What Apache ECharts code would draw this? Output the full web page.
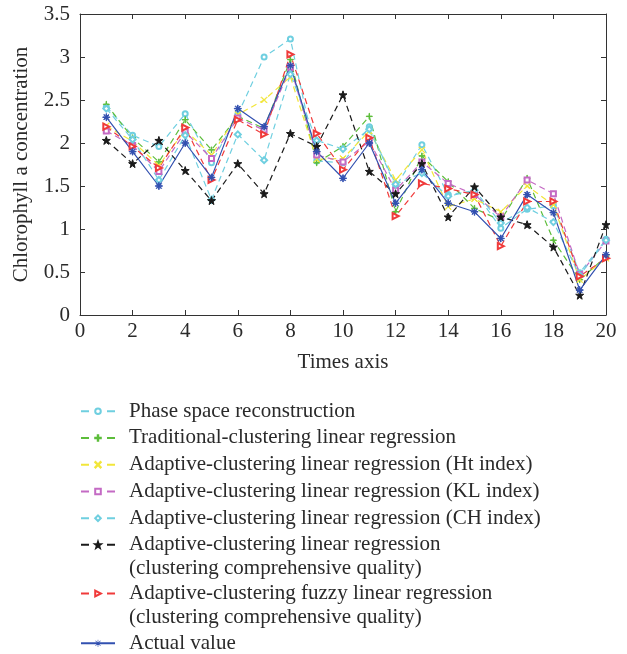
<!DOCTYPE html>
<html>
<head>
<meta charset="utf-8">
<script src="https://cdn.jsdelivr.net/npm/echarts@6/dist/echarts.min.js"></script>
<style>
html,body{margin:0;padding:0;background:#fff;}
#chart{width:627px;height:654px;}
</style>
</head>
<body>
<div id="chart"></div>
<script>
// ---- data ----
var xValues = [1,2,3,4,5,6,7,8,9,10,11,12,13,14,15,16,17,18,19,20];
var xTicks = [0,2,4,6,8,10,12,14,16,18,20];
var yTicks = [0,0.5,1,1.5,2,2.5,3,3.5];

var seriesNames = [
  'Phase space reconstruction',
  'Traditional-clustering linear regression',
  'Adaptive-clustering linear regression (Ht index)',
  'Adaptive-clustering linear regression (KL index)',
  'Adaptive-clustering linear regression (CH index)',
  'Adaptive-clustering linear regression (clustering comprehensive quality)',
  'Adaptive-clustering fuzzy linear regression (clustering comprehensive quality)',
  'Actual value'
];

var phaseSpace   = [2.42, 2.09, 1.96, 2.34, 1.77, 2.33, 3.00, 3.21, 1.79, 1.77, 2.19, 1.49, 1.98, 1.40, 1.44, 1.01, 1.23, 1.27, 0.49, 0.88];
var traditional  = [2.45, 2.06, 1.78, 2.27, 1.92, 2.31, 2.17, 2.97, 1.77, 1.96, 2.31, 1.20, 1.85, 1.55, 1.24, 1.10, 1.59, 0.87, 0.41, 0.68];
var htIndex      = [2.20, 2.02, 1.74, 2.15, 1.86, 2.33, 2.50, 2.77, 1.81, 1.82, 2.14, 1.57, 1.92, 1.26, 1.35, 1.20, 1.50, 1.28, 0.41, 0.66];
var klIndex      = [2.14, 1.97, 1.67, 2.13, 1.82, 2.29, 2.15, 2.88, 1.86, 1.78, 2.02, 1.45, 1.78, 1.53, 1.40, 1.14, 1.57, 1.41, 0.47, 0.86];
var chIndex      = [2.40, 2.04, 1.57, 2.09, 1.34, 2.10, 1.80, 2.80, 2.03, 1.93, 2.16, 1.52, 1.65, 1.38, 1.45, 1.07, 1.25, 1.08, 0.46, 0.87];
var ccqLinear    = [2.03, 1.76, 2.03, 1.68, 1.33, 1.76, 1.41, 2.11, 1.96, 2.56, 1.67, 1.41, 1.76, 1.14, 1.49, 1.14, 1.05, 0.79, 0.23, 1.05];
var ccqFuzzy     = [2.19, 1.96, 1.71, 2.18, 1.57, 2.27, 2.10, 3.03, 2.11, 1.69, 2.06, 1.15, 1.53, 1.47, 1.40, 0.80, 1.32, 1.32, 0.45, 0.66];
var actualValue  = [2.30, 1.90, 1.50, 2.00, 1.60, 2.40, 2.19, 2.90, 1.90, 1.59, 2.00, 1.30, 1.69, 1.30, 1.20, 0.89, 1.40, 1.19, 0.29, 0.70];

var allValues = [phaseSpace, traditional, htIndex, klIndex, chIndex, ccqLinear, ccqFuzzy, actualValue];
var legendLabels = {};
legendLabels[seriesNames[5]] = ['Adaptive-clustering linear regression', '(clustering comprehensive quality)'];
legendLabels[seriesNames[6]] = ['Adaptive-clustering fuzzy linear regression', '(clustering comprehensive quality)'];

// ---- styles ----
var colors = ['#6fcfe0', '#5cbd3a', '#f2e63a', '#c46ac4', '#6fcfe0', '#1a1a1a', '#f03a3a', '#3250b0'];
var plusPath = 'path://M4.6,0H5.4V4.6H10V5.4H5.4V10H4.6V5.4H0V4.6H4.6Z';
var xPath = 'path://M0.6,0L5,4.4L9.4,0L10,0.6L5.6,5L10,9.4L9.4,10L5,5.6L0.6,10L0,9.4L4.4,5L0,0.6Z';
var starPath = 'path://M5,0L6.18,3.38L9.76,3.45L6.9,5.62L7.94,9.05L5,7L2.06,9.05L3.1,5.62L0.24,3.45L3.82,3.38Z';
var asteriskPath = 'path://M4.6,0H5.4V4.6H10V5.4H5.4V10H4.6V5.4H0V4.6H4.6Z M1.2,1.8L1.8,1.2L5,4.4L8.2,1.2L8.8,1.8L5.6,5L8.8,8.2L8.2,8.8L5,5.6L1.8,8.8L1.2,8.2L4.4,5Z';
var symbols = ['emptyCircle', plusPath, xPath, 'emptyRect', 'emptyDiamond', starPath, 'emptyTriangle', asteriskPath];
var symbolSizes = [5, 6, 6, 5, 6, 8, 6, 7];
var symbolRotates = [0, 0, 0, 0, 0, 0, -90, 0];
var dashPattern = [6, 4];
var FONT = 'Liberation Serif';
var FS = 21;
var TXT = '#2a2a2a';

var series = seriesNames.map(function (name, i) {
  return {
    name: name,
    type: 'line',
    data: xValues.map(function (x, j) { return [x, allValues[i][j]]; }),
    symbol: symbols[i],
    symbolSize: symbolSizes[i],
    symbolRotate: symbolRotates[i],
    showAllSymbol: true,
    animation: false,
    lineStyle: { color: colors[i], width: 1.2, type: i === 7 ? 'solid' : dashPattern },
    itemStyle: { color: colors[i], borderColor: colors[i], borderWidth: 1 },
    emphasis: { disabled: true }
  };
});

function makeLegend(names, top, multi, solid) {
  var lg = {
    orient: 'vertical',
    left: 80,
    top: top,
    padding: 0,
    itemWidth: 34,
    itemHeight: 7,
    itemGap: 2.75,
    selectedMode: false,
    lineStyle: { type: solid ? 'solid' : [8, 18] },
    data: names.map(function (n) {
      return { name: n, textStyle: { padding: multi ? [24, 0, 0, 9] : [0, 0, 0, 9] } };
    }),
    formatter: function (name) {
      if (legendLabels[name]) {
        return '{t|' + legendLabels[name][0] + '}\n{t|' + legendLabels[name][1] + '}';
      }
      return name;
    },
    textStyle: {
      fontFamily: FONT, fontSize: FS, color: TXT, lineHeight: 24,
      rich: { t: { fontFamily: FONT, fontSize: FS, color: TXT, lineHeight: 24 } }
    }
  };
  if (solid) {
    lg.itemHeight = 9;
    lg.itemStyle = { borderWidth: 0 };
  }
  return lg;
}

var axisLineStyle = { color: '#333', width: 1 };

var option = {
  backgroundColor: '#fff',
  animation: false,
  grid: { left: 80, right: 21, top: 14, bottom: 339, containLabel: false },
  legend: [
    makeLegend(seriesNames.slice(0, 5), 399.2, false, false),
    makeLegend([seriesNames[5]], 508.8, true, false),
    makeLegend([seriesNames[6]], 557.5, true, false),
    makeLegend([seriesNames[7]], 631.3, false, true)
  ],
  xAxis: [{
    type: 'value', min: 0, max: 20, interval: 2,
    name: 'Times axis', nameLocation: 'middle', nameGap: 36.5,
    nameTextStyle: { fontFamily: FONT, fontSize: FS, color: TXT },
    axisLine: { show: true, onZero: false, lineStyle: axisLineStyle },
    axisTick: { show: true, inside: true, length: 5, lineStyle: axisLineStyle },
    axisLabel: { margin: 6, fontFamily: FONT, fontSize: FS, color: TXT,
      formatter: function (v) { return xTicks.indexOf(v) >= 0 ? String(v) : ''; } },
    splitLine: { show: false }
  }, {
    type: 'value', min: 0, max: 20, interval: 2, position: 'top',
    axisLine: { show: true, onZero: false, lineStyle: axisLineStyle },
    axisTick: { show: true, inside: true, length: 5, lineStyle: axisLineStyle },
    axisLabel: { show: false },
    splitLine: { show: false }
  }],
  yAxis: [{
    type: 'value', min: 0, max: 3.5, interval: 0.5,
    name: 'Chlorophyll a concentration', nameLocation: 'middle', nameGap: 48,
    nameTextStyle: { fontFamily: FONT, fontSize: FS, color: TXT },
    axisLine: { show: true, onZero: false, lineStyle: axisLineStyle },
    axisTick: { show: true, inside: true, length: 5, lineStyle: axisLineStyle },
    axisLabel: { margin: 10, fontFamily: FONT, fontSize: FS, color: TXT,
      formatter: function (v) { return yTicks.indexOf(v) >= 0 ? String(v) : ''; } },
    splitLine: { show: false }
  }, {
    type: 'value', min: 0, max: 3.5, interval: 0.5, position: 'right',
    axisLine: { show: true, onZero: false, lineStyle: axisLineStyle },
    axisTick: { show: true, inside: true, length: 5, lineStyle: axisLineStyle },
    axisLabel: { show: false },
    splitLine: { show: false }
  }],
  series: series
};

var chart = echarts.init(document.getElementById('chart'), null, { renderer: 'canvas' });
chart.setOption(option);
</script>
</body>
</html>
